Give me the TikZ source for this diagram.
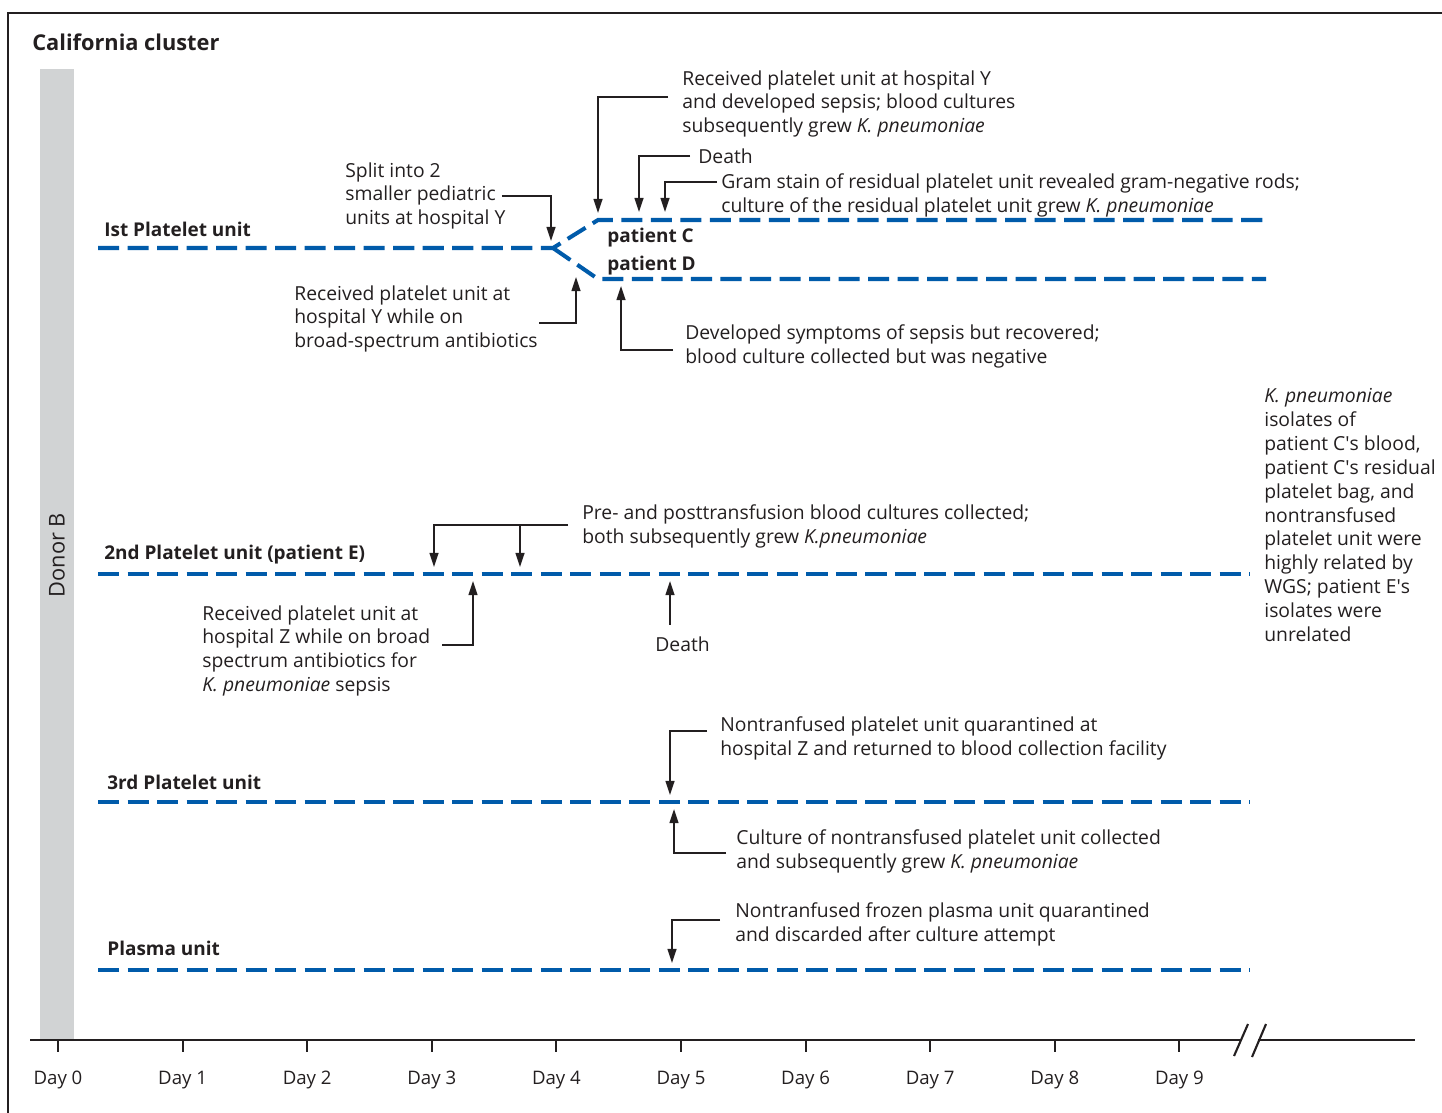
\documentclass[tikz,border=0pt]{standalone}
\usepackage{fontspec}
\setmainfont{Open Sans}
\usetikzlibrary{calc, arrows.meta, positioning}

\definecolor{unitblue}{RGB}{0,91,170}
\definecolor{donorgrey}{RGB}{209,211,212}
\definecolor{inkgrey}{RGB}{35,31,32}

\newcommand{\kp}{\textit{K. pneumoniae}}
\newcommand{\apos}{\textquotesingle}

\begin{document}
\begin{tikzpicture}[x=0.02cm, y=-0.02cm, inkgrey,
    unitline/.style={draw=unitblue, line width=2.3pt, dash pattern=on 12pt off 4.8pt},
    axisline/.style={draw=inkgrey, line width=1.2pt},
    pointer/.style={draw=inkgrey, line width=1.1pt, -{Triangle[length=8pt,width=5pt]}},
    note/.style={font=\fontsize{11}{13.6}\selectfont, align=left, anchor=north west,
        inner sep=0pt, execute at begin node=\strut},
    unitlabel/.style={font=\fontsize{10.8}{13.6}\selectfont\bfseries, anchor=west, inner sep=0pt},
    daylabel/.style={font=\fontsize{10.6}{13.6}\selectfont, inner sep=0pt}]

    % page and frame
    \useasboundingbox (0,0) rectangle (1442,1112);
    \clip (0,0) rectangle (1442,1112);
    \draw[line width=1.2pt] (8,1130) -- (8,13) -- (1460,13);

    \node[font=\fontsize{12.4}{14}\selectfont\bfseries, anchor=west, inner sep=0pt] (title) at (32,42) {California cluster};

    % donor bar
    \fill[donorgrey] (40,69) rectangle (74,1040);
    \node[rotate=90, font=\fontsize{12.4}{14}\selectfont, inner sep=0pt] (donor) at (57,555) {Donor B};

    % time axis with break
    \draw[axisline] (30,1040) -- (1240,1040);
    \draw[axisline] (1258,1040) -- (1415,1040);
    \draw[axisline] (1234,1056) -- (1248,1024);
    \draw[axisline] (1252,1057) -- (1266,1024);
    \foreach \d in {0,...,9} {
        \draw[axisline] ({58+124.6*\d},1040) -- ++(0,12);
        \node[daylabel] (day\d) at ({58+124.6*\d},1080) {Day \d};
    }

    % ==========================================
    % unit lines
    % ==========================================
    \draw[unitline] (98,248) -- (553,248) -- (598,220) -- (1266,220);
    \draw[unitline] (553,248) -- (598,279) -- (1266,279);
    \draw[unitline] (98,574) -- (1250,574);
    \draw[unitline] (98,802) -- (1250,802);
    \draw[unitline] (98,970) -- (1250,970);

    \node[unitlabel] (unit1) at (104,229) {Ist Platelet unit};
    \node[unitlabel] (unit2) at (104,555) {2nd Platelet unit (patient E)};
    \node[unitlabel] (unit3) at (107,782) {3rd Platelet unit};
    \node[unitlabel] (plasma) at (107,948) {Plasma unit};
    \node[unitlabel] (patC) at (607,238) {patient C};
    \node[unitlabel] (patD) at (607,266) {patient D};

    % arrow tips on the lines
    \coordinate (tipsplit) at (551,241);
    \coordinate (tiprecvY) at (576,277);
    \coordinate (tipC) at (598,213);
    \coordinate (tipdeathC) at (639,212);
    \coordinate (tipgram) at (665,212);
    \coordinate (tipD) at (621,286);
    \coordinate (tipE1) at (434,567);
    \coordinate (tipE2) at (520,567);
    \coordinate (tipZ) at (473,581);
    \coordinate (tipdeathE) at (670,581);
    \coordinate (tipquar) at (670,795);
    \coordinate (tipcult3) at (674,809);
    \coordinate (tipplasma) at (672,963);

    % ==========================================
    % 1st platelet unit
    % ==========================================
    \node[note] (split) at (345,162) {Split into 2\\smaller pediatric\\units at hospital Y};
    \draw[pointer] ($(split.east)+(-4,-1)$) -| (tipsplit);

    \node[note] (recvY) at (294,285) {Received platelet unit at\\hospital Y while on\\broad-spectrum antibiotics};
    \draw[pointer] ($(recvY.east)+(1,3)$) -| (tiprecvY);

    \node[note] (recvC) at (682,70) {Received platelet unit at hospital Y\\and developed sepsis; blood cultures\\subsequently grew \kp};
    \draw[pointer] ($(recvC.west)+(-14,-8)$) -| (tipC);

    \node[note, anchor=west] (deathC) at (698,159) {Death};
    \draw[pointer] ($(deathC.west)+(-8,-3)$) -| (tipdeathC);

    \node[note] (gram) at (721,173) {Gram stain of residual platelet unit revealed gram-negative rods;\\culture of the residual platelet unit grew \kp};
    \draw[pointer] ($(gram.west)+(-4,-14)$) -| (tipgram);

    \node[note] (sympD) at (685,324) {Developed symptoms of sepsis but recovered;\\blood culture collected but was negative};
    \draw[pointer] ($(sympD.west)+(-12,3)$) -| (tipD);

    % ==========================================
    % 2nd platelet unit
    % ==========================================
    \node[note] (cultE) at (582,504) {Pre- and posttransfusion blood cultures collected;\\both subsequently grew \textit{K.pneumoniae}};
    \draw[pointer] ($(cultE.west)+(-14,-2)$) coordinate (cultEstart) -| (tipE1);
    \draw[pointer] (tipE2 |- cultEstart) -- (tipE2);

    \node[note] (recvZ) at (202,605) {Received platelet unit at\\hospital Z while on broad\\spectrum antibiotics for\\\kp{} sepsis};
    \draw[pointer] ($(recvZ.east)+(12,-7)$) -| (tipZ);

    \node[note, anchor=west] (deathE) at (655,647) {Death};
    \draw[pointer] ($(tipdeathE |- deathE.north)+(0,-10)$) -- (tipdeathE);

    \node[note] (wgs) at (1264,388) {\kp\\isolates of\\patient C\apos s blood,\\patient C\apos s residual\\platelet bag, and\\nontransfused\\platelet unit were\\highly related by\\WGS; patient E\apos s\\isolates were\\unrelated};

    % ==========================================
    % 3rd platelet unit and plasma unit
    % ==========================================
    \node[note] (quar) at (720,716) {Nontranfused platelet unit quarantined at\\hospital Z and returned to blood collection facility};
    \draw[pointer] ($(quar.west)+(-13,-8)$) -| (tipquar);

    \node[note] (cult3) at (736,829) {Culture of nontransfused platelet unit collected\\and subsequently grew \kp};
    \draw[pointer] ($(cult3.west)+(-10,1)$) -| (tipcult3);

    \node[note] (plnote) at (735,902) {Nontranfused frozen plasma unit quarantined\\and discarded after culture attempt};
    \draw[pointer] ($(plnote.west)+(-15,-5)$) -| (tipplasma);

\end{tikzpicture}
\end{document}
